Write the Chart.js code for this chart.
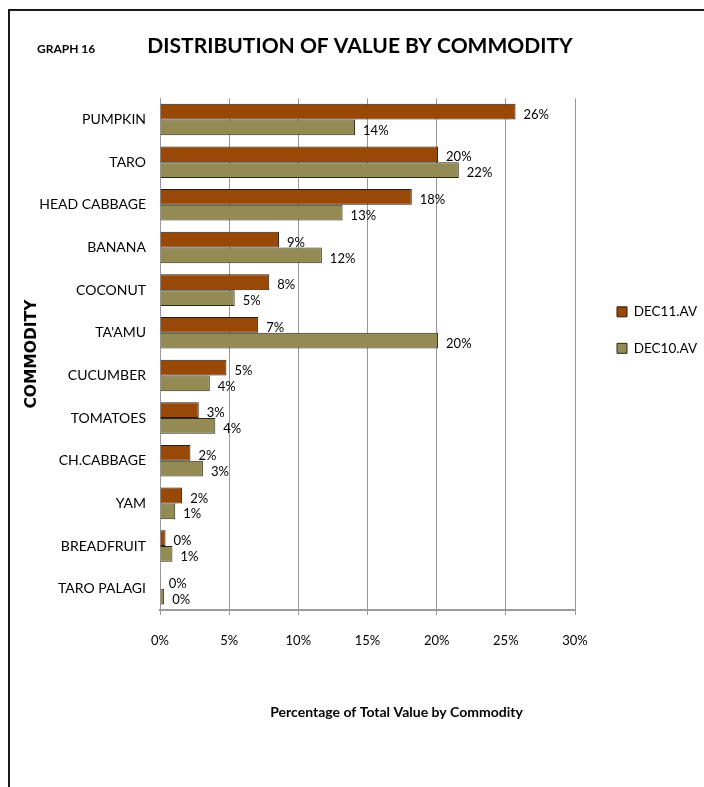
<!DOCTYPE html>
<html>
<head>
<meta charset="utf-8">
<script src="https://cdn.jsdelivr.net/npm/chart.js@4"></script>
<style>
  html, body { margin: 0; padding: 0; background: #fff; overflow: hidden; }
  #frame { position: absolute; left: 8px; top: 9px; width: 720px; height: 800px;
           border-left: 2px solid #1a1a1a; border-top: 2px solid #1a1a1a; }
  #wrap { position: absolute; left: 0; top: 0; width: 704px; height: 787px; }
</style>
</head>
<body>
<div id="frame"></div>
<div id="wrap"><canvas id="chart"></canvas></div>
<script>
const commodities = ['PUMPKIN', 'TARO', 'HEAD CABBAGE', 'BANANA', 'COCONUT', "TA'AMU",
  'CUCUMBER', 'TOMATOES', 'CH.CABBAGE', 'YAM', 'BREADFRUIT', 'TARO PALAGI'];
const dec11 = [25.7, 20.1, 18.2, 8.6, 7.9, 7.1, 4.8, 2.8, 2.2, 1.6, 0.4, 0.05];
const dec10 = [14.1, 21.6, 13.2, 11.7, 5.4, 20.1, 3.6, 4.0, 3.1, 1.1, 0.9, 0.3];
const xTicks = [0, 5, 10, 15, 20, 25, 30];

const face = "Lato, 'Open Sans', sans-serif";

// value labels next to each bar
const barLabels = {
  id: 'barLabels',
  afterDatasetsDraw(chart) {
    const ctx = chart.ctx;
    ctx.save();
    ctx.font = '13px ' + face;
    ctx.fillStyle = '#000';
    ctx.textAlign = 'left';
    ctx.textBaseline = 'middle';
    chart.data.datasets.forEach((ds, i) => {
      chart.getDatasetMeta(i).data.forEach((bar, j) => {
        ctx.fillText(Math.round(ds.data[j]) + '%', bar.x + 8, bar.y + 3);
      });
    });
    ctx.restore();
  }
};

// "GRAPH 16" tag and the x axis caption (sits right of centre in the original)
const extraText = {
  id: 'extraText',
  afterDraw(chart) {
    const ctx = chart.ctx;
    const area = chart.chartArea;
    ctx.save();
    ctx.fillStyle = '#000';
    ctx.textBaseline = 'middle';
    ctx.font = 'bold 12px ' + face;
    ctx.textAlign = 'left';
    ctx.fillText('GRAPH 16', 37, 49);
    ctx.font = 'bold 14px ' + face;
    ctx.textAlign = 'center';
    ctx.fillText('Percentage of Total Value by Commodity', (area.left + area.right) / 2 + 29, 712);
    ctx.restore();
  }
};

// legend: fixed width on the right, nudged to where Excel put it
const legendPlace = {
  id: 'legendPlace',
  beforeInit(chart) {
    const fit = chart.legend.fit;
    chart.legend.fit = function () {
      fit.call(this);
      this.width = 129;
    };
  },
  afterLayout(chart) {
    const lg = chart.legend;
    lg.left += 19; lg.right += 19;
    lg.top -= 24; lg.bottom -= 24;
  }
};

new Chart(document.getElementById('chart'), {
  type: 'bar',
  data: {
    labels: commodities,
    datasets: [{
      label: 'DEC11.AV',
      data: dec11,
      backgroundColor: '#984807',
      borderColor: '#2a1a0a',
      borderWidth: 1
    }, {
      label: 'DEC10.AV',
      data: dec10,
      backgroundColor: '#948A54',
      borderColor: '#2a2a1a',
      borderWidth: 1
    }]
  },
  options: {
    indexAxis: 'y',
    responsive: true,
    maintainAspectRatio: false,
    animation: false,
    layout: { padding: { left: 16, right: 0, top: 0, bottom: 0 } },
    datasets: { bar: { categoryPercentage: 0.74, barPercentage: 1 } },
    scales: {
      x: {
        min: 0,
        max: 30,
        afterBuildTicks: s => { s.ticks = xTicks.map(v => ({ value: v })); },
        afterFit: s => { s.height = 177; },
        grid: { color: '#999', lineWidth: 1, drawTicks: true, tickLength: 5 },
        border: { color: '#999', width: 2 },
        ticks: {
          padding: 18,
          color: '#000',
          font: { family: face, size: 13 },
          callback: v => v + '%'
        }
      },
      y: {
        afterFit: s => { s.width = 144; },
        grid: { display: false, drawTicks: false, tickLength: 0 },
        border: { color: '#999', width: 1 },
        ticks: { padding: 14, color: '#000', font: { family: face, size: 14 } },
        title: {
          display: true,
          text: 'COMMODITY',
          color: '#000',
          padding: { top: 7, bottom: 0 },
          font: { family: "'DejaVu Sans', sans-serif", size: 15.5, weight: 'bold' }
        }
      }
    },
    plugins: {
      title: {
        display: true,
        text: 'DISTRIBUTION OF VALUE BY COMMODITY',
        color: '#000',
        font: { family: face, size: 21, weight: 'bold' },
        padding: { top: 34, bottom: 39 }
      },
      legend: {
        position: 'right',
        fullSize: false,
        labels: {
          boxWidth: 10,
          boxHeight: 10,
          padding: 23,
          color: '#000',
          font: { family: face, size: 13.5 }
        }
      },
      tooltip: { enabled: false }
    }
  },
  plugins: [barLabels, extraText, legendPlace]
});
</script>
</body>
</html>
